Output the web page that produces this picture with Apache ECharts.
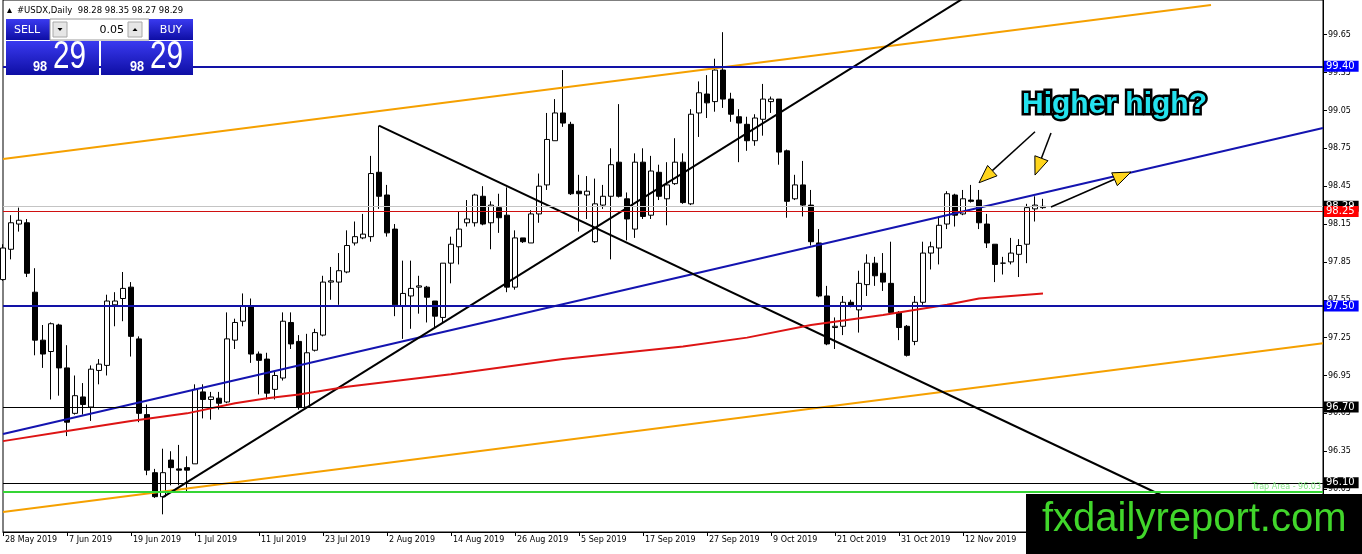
<!DOCTYPE html>
<html><head><meta charset="utf-8">
<script src="https://cdn.jsdelivr.net/npm/echarts@6/dist/echarts.min.js"></script>
<style>html,body{margin:0;padding:0;background:#fff}#c{width:1362px;height:554px}</style>
</head><body><div id="c"></div>
<script>
// ---- categories (weekday trading days) ----
const startDate = '2019-05-28';
const slotCount = 166;
const xTickLabels = ['28 May 2019','7 Jun 2019','19 Jun 2019','1 Jul 2019','11 Jul 2019','23 Jul 2019','2 Aug 2019','14 Aug 2019','26 Aug 2019','5 Sep 2019','17 Sep 2019','27 Sep 2019','9 Oct 2019','21 Oct 2019','31 Oct 2019','12 Nov 2019'];
const yTickValues = [96.05,96.35,96.65,96.95,97.25,97.55,97.85,98.15,98.45,98.75,99.05,99.35,99.65];

// ---- OHLC ----
const opens = [97.71,97.95,98.15,98.16,97.61,97.23,97.14,97.35,97.01,96.65,96.78,96.70,96.99,97.03,97.51,97.56,97.65,97.24,96.64,96.18,
95.99,96.28,96.21,96.22,96.25,96.82,96.76,96.77,96.74,97.23,97.38,97.50,97.12,97.08,96.84,96.93,97.37,97.22,96.70,97.15,
97.27,97.69,97.69,97.77,98.00,98.04,98.05,98.56,98.38,98.11,97.50,97.58,97.65,97.65,97.54,97.41,97.84,97.97,98.16,98.16,
98.37,98.16,98.28,98.22,97.65,98.04,98.00,98.23,98.46,98.81,99.03,98.94,98.41,98.38,98.01,98.30,98.37,98.64,98.35,98.11,
98.64,98.22,98.56,98.35,98.47,98.64,98.31,99.03,99.18,99.12,99.37,99.14,99.00,98.94,98.81,98.98,99.12,99.14,98.73,98.35,
98.46,98.30,98.00,97.58,97.33,97.34,97.53,97.47,97.67,97.84,97.76,97.68,97.45,97.34,97.22,97.53,97.92,97.96,98.15,98.38,
98.23,98.34,98.34,98.15,97.99,97.84,97.85,97.91,97.99,98.27,98.28];
const closes = [97.96,98.16,98.18,97.76,97.23,97.12,97.36,97.01,96.58,96.79,96.72,97.00,97.04,97.54,97.54,97.64,97.26,96.65,96.20,95.99,
96.18,96.22,96.20,96.20,96.84,96.76,96.78,96.73,97.24,97.37,97.50,97.12,97.07,96.81,96.95,97.38,97.20,96.70,97.13,97.29,
97.69,97.70,97.78,97.98,98.05,98.07,98.55,98.37,98.08,97.51,97.60,97.64,97.66,97.57,97.42,97.84,97.99,98.11,98.19,98.38,
98.15,98.30,98.20,97.65,98.04,98.01,98.23,98.45,98.82,99.03,98.95,98.39,98.39,98.41,98.31,98.37,98.62,98.37,98.19,98.64,
98.21,98.57,98.37,98.46,98.64,98.32,99.02,99.19,99.11,99.37,99.14,99.02,98.95,98.81,98.99,99.14,99.14,98.72,98.33,98.46,
98.30,98.01,97.58,97.20,97.34,97.53,97.50,97.68,97.84,97.74,97.69,97.45,97.33,97.11,97.53,97.92,97.97,98.14,98.39,98.22,
98.35,98.33,98.16,98.00,97.83,97.84,97.92,97.98,98.28,98.30,98.29];
const lows = [97.70,97.87,98.09,97.73,97.11,97.01,96.76,96.79,96.47,96.64,96.64,96.59,96.88,96.95,97.34,97.38,97.10,96.58,96.16,95.98,
95.85,96.08,96.08,96.03,96.25,96.61,96.60,96.68,96.73,97.16,97.34,97.05,96.80,96.76,96.76,96.91,97.16,96.68,96.69,97.14,
97.26,97.55,97.51,97.76,97.98,98.03,98.01,98.27,98.05,97.42,97.24,97.32,97.44,97.37,97.33,97.37,97.68,97.83,98.13,98.13,
98.14,97.95,98.08,97.61,97.63,98.00,98.00,98.16,98.42,98.81,98.92,98.38,98.09,98.19,98.00,98.27,97.87,98.36,98.02,98.04,
98.19,98.19,98.34,98.14,98.46,98.31,98.30,98.84,98.99,99.04,99.07,98.96,98.64,98.73,98.77,98.85,99.03,98.62,98.20,98.34,
98.21,97.98,97.57,97.19,97.16,97.27,97.49,97.29,97.58,97.66,97.62,97.45,97.23,97.10,97.19,97.51,97.79,97.83,98.11,98.13,
98.22,98.32,98.11,97.96,97.69,97.75,97.83,97.73,97.84,98.17,98.27];
const highs = [97.99,98.22,98.28,98.19,97.80,97.35,97.37,97.36,97.19,96.95,96.89,97.03,97.08,97.59,97.61,97.77,97.69,97.26,96.72,96.21,
96.37,96.35,96.40,96.31,96.88,96.88,96.82,96.82,97.45,97.40,97.60,97.56,97.14,97.13,96.98,97.45,97.45,97.27,97.28,97.32,
97.74,97.81,97.92,98.10,98.17,98.23,98.69,98.93,98.46,98.15,97.86,97.86,97.74,97.66,97.54,97.84,98.05,98.25,98.34,98.39,
98.45,98.33,98.39,98.44,98.10,98.04,98.26,98.55,99.03,99.14,99.37,98.96,98.54,98.53,98.51,98.46,98.75,99.10,98.40,98.71,
98.75,98.69,98.62,98.64,98.83,98.71,99.06,99.28,99.33,99.46,99.67,99.19,99.06,99.00,99.02,99.26,99.16,99.14,98.74,98.54,
98.65,98.42,98.11,97.66,97.41,97.58,97.55,97.78,97.91,97.89,97.92,98.01,97.46,97.35,97.58,98.01,98.01,98.21,98.41,98.39,
98.42,98.46,98.42,98.23,97.99,97.89,98.04,98.03,98.31,98.37,98.35];

// ---- moving average (read at sample bars) ----
const maIndex = [0,8,16,23,29,33,37,43,56,70,85,93,101,110,118,122,130];
const maValue = [96.43,96.51,96.59,96.65,96.73,96.77,96.80,96.86,96.96,97.08,97.18,97.25,97.35,97.43,97.51,97.56,97.60];

// ---- trend lines [index, price] ----
const blueTrend   = [[0, 96.486],[165, 98.911]];
const orangeUpper = [[0, 98.665],[151, 99.885]];
const orangeLower = [[0, 95.868],[165, 97.205]];
const blackRise   = [[20, 95.987],[121, 99.976]];
const blackFall   = [[47, 98.93],[145, 95.995]];

// ---- horizontal levels ----
const levelValues = [99.40, 98.29, 98.25, 97.50, 96.70, 96.10, 96.03];

// ---- annotation arrows [index, price] ----
const arrowFrom = [[128.6, 98.881],[130.9, 98.871],[131.25, 98.285]];
const arrowTo   = [[121.5, 98.477],[129.3, 98.538],[141.1, 98.562]];

// ---------------------------------------------------------------
const FONT = "'DejaVu Sans', Verdana, sans-serif";
const SANS = "'Liberation Sans', Arial, sans-serif";
const dates = [];
{ let d = new Date(startDate + 'T00:00:00Z');
  while (dates.length < slotCount) { const w = d.getUTCDay(); if (w !== 0 && w !== 6) dates.push(d.toISOString().slice(0,10)); d = new Date(d.getTime() + 86400000); } }

const ohlc = opens.map((o, i) => [o, closes[i], lows[i], highs[i]]);
const maData = maIndex.map((x, k) => [x, maValue[k]]);

const levelStyles = [
  {color:'#1212a6', w:2, bg:'#0000ff', label:true},
  {color:'#c4c4c4', w:1, bg:'#000000', label:true},
  {color:'#d01010', w:1, bg:'#ff0000', label:true},
  {color:'#1212a6', w:2, bg:'#0000ff', label:true},
  {color:'#000000', w:1, bg:'#000000', label:true},
  {color:'#000000', w:1, bg:'#000000', label:true},
  {color:'#35d535', w:2, bg:null, label:false}
];
const markData = levelValues.map((v, k) => {
  const s = levelStyles[k];
  const item = {yAxis: v, lineStyle:{color:s.color, width:s.w, type:'solid'}};
  if (s.label) {
    item.label = {show:true, position:'end', distance:1, formatter: v.toFixed(2), color:'#fff',
      backgroundColor:s.bg, padding:[0,4,0,2], fontSize:10, fontFamily:FONT, lineHeight:11};
  } else {
    item.label = {show:true, position:'insideEndTop', distance:[2,1], formatter:'Trap Area - ' + v.toFixed(2),
      color:'#86e686', fontSize:8, fontFamily:FONT};
  }
  return item;
});

function seg(data, color) {
  return {type:'line', data, symbol:'none', silent:true, z:4, animation:false,
    lineStyle:{color, width:2}};
}

const chart = echarts.init(document.getElementById('c'), null, {renderer:'canvas'});
chart.setOption({
  animation:false,
  backgroundColor:'#fff',
  grid:{left:3, right:39, top:0, bottom:22, show:true, borderColor:'#000', borderWidth:1, outerBoundsMode:'none', containLabel:false},
  xAxis:{type:'category', data:dates, boundaryGap:false,
    axisLine:{show:true, lineStyle:{color:'#000', width:1}},
    axisTick:{show:true, interval:7, length:4, lineStyle:{color:'#000'}},
    axisLabel:{interval:7, align:'left', margin:4, padding:[0,0,0,2], color:'#000', fontSize:8, fontFamily:FONT,
      formatter:(v, i) => (i % 8 === 0 && xTickLabels[i/8]) ? xTickLabels[i/8] : ''},
    splitLine:{show:false}},
  yAxis:{type:'value', position:'right', min:95.71, max:99.925, scale:true,
    splitLine:{show:false},
    axisLine:{show:true, lineStyle:{color:'#000'}},
    axisTick:{show:true, length:4, customValues:yTickValues, lineStyle:{color:'#000'}},
    axisLabel:{customValues:yTickValues, formatter:v => Number(v).toFixed(2), color:'#000', fontSize:8, fontFamily:FONT, margin:5}},
  series:[
    {type:'candlestick', data:ohlc, barWidth:5, z:2,
      itemStyle:{color:'#ffffff', color0:'#000000', borderColor:'#000000', borderColor0:'#000000', borderWidth:1}},
    seg(orangeUpper, '#f5a000'),
    seg(orangeLower, '#f5a000'),
    seg(blueTrend, '#1414b0'),
    seg(blackRise, '#000000'),
    seg(blackFall, '#000000'),
    {type:'line', data:maData, symbol:'none', silent:true, z:4, lineStyle:{color:'#dd1414', width:2}},
    {type:'line', data:[], clip:false, silent:true, z:3,
      markLine:{silent:true, symbol:['none','none'], animation:false, data:markData}}
  ]
});

// ---- graphics (panel, notes, arrows, logo) ----
const blueGrad = () => new echarts.graphic.LinearGradient(0,0,0,1,[{offset:0,color:'#3a3af0'},{offset:1,color:'#0e0ea4'}]);
const g = [];
g.push({type:'polygon', shape:{points:[[7,13],[12,13],[9.5,8]]}, style:{fill:'#000'}, z:100});
g.push({type:'text', x:17, y:11, style:{text:'#USDX,Daily  98.28 98.35 98.27 98.29', font:'8.5px ' + FONT, fill:'#000', textVerticalAlign:'middle'}, z:100});
// panel
g.push({type:'rect', shape:{x:6,y:19,width:44,height:21}, style:{fill:blueGrad()}, z:100});
g.push({type:'text', x:27, y:30, style:{text:'SELL', font:'11px ' + FONT, fill:'#fff', textAlign:'center', textVerticalAlign:'middle'}, z:101});
g.push({type:'rect', shape:{x:50,y:19,width:99,height:21}, style:{fill:'#fff', stroke:'#9a9a9a', lineWidth:1}, z:100});
g.push({type:'rect', shape:{x:53,y:22,width:14,height:15}, style:{fill:'#e6e6e6', stroke:'#a8a8a8', lineWidth:1}, z:101});
g.push({type:'polygon', shape:{points:[[57.5,28],[62.5,28],[60,31]]}, style:{fill:'#000'}, z:102});
g.push({type:'text', x:124, y:30, style:{text:'0.05', font:'11px ' + FONT, fill:'#000', textAlign:'right', textVerticalAlign:'middle'}, z:101});
g.push({type:'rect', shape:{x:128,y:22,width:14,height:15}, style:{fill:'#e6e6e6', stroke:'#a8a8a8', lineWidth:1}, z:101});
g.push({type:'polygon', shape:{points:[[132.5,31],[137.5,31],[135,28]]}, style:{fill:'#000'}, z:102});
g.push({type:'rect', shape:{x:149,y:19,width:44,height:21}, style:{fill:blueGrad()}, z:100});
g.push({type:'text', x:171, y:30, style:{text:'BUY', font:'11px ' + FONT, fill:'#fff', textAlign:'center', textVerticalAlign:'middle'}, z:101});
g.push({type:'rect', shape:{x:6,y:41,width:93,height:34}, style:{fill:blueGrad()}, z:100});
g.push({type:'rect', shape:{x:101,y:41,width:92,height:34}, style:{fill:blueGrad()}, z:100});
g.push({type:'text', x:33, y:66.5, scaleX:0.85, style:{text:'98', font:'bold 15px ' + SANS, fill:'#fff', textVerticalAlign:'middle'}, z:101});
g.push({type:'text', x:53, y:58, scaleX:0.78, style:{text:'29', font:'38px ' + SANS, fill:'#fff', textVerticalAlign:'middle'}, z:101});
g.push({type:'text', x:130, y:66.5, scaleX:0.85, style:{text:'98', font:'bold 15px ' + SANS, fill:'#fff', textVerticalAlign:'middle'}, z:101});
g.push({type:'text', x:150, y:58, scaleX:0.78, style:{text:'29', font:'38px ' + SANS, fill:'#fff', textVerticalAlign:'middle'}, z:101});
// note
g.push({type:'text', x:1022, y:104.5, style:{text:'Higher high?', font:'bold 30px ' + SANS, fill:'#000', stroke:'#000', lineWidth:5, lineJoin:'round', textVerticalAlign:'middle'}, z:100});
g.push({type:'text', x:1022, y:104.5, style:{text:'Higher high?', font:'bold 30px ' + SANS, fill:'#24e2ee', textVerticalAlign:'middle'}, z:101});
// arrows
arrowFrom.forEach((f, k) => {
  const a = chart.convertToPixel({gridIndex:0}, f);
  const b = chart.convertToPixel({gridIndex:0}, arrowTo[k]);
  const dx = b[0]-a[0], dy = b[1]-a[1], len = Math.hypot(dx, dy), ux = dx/len, uy = dy/len;
  const L = 18, W = 7, bx = b[0]-ux*L, by = b[1]-uy*L;
  g.push({type:'line', shape:{x1:a[0], y1:a[1], x2:bx, y2:by}, style:{stroke:'#000', lineWidth:1.5}, z:100});
  g.push({type:'polygon', shape:{points:[[b[0],b[1]],[bx-uy*W, by+ux*W],[bx+uy*W, by-ux*W]]}, style:{fill:'#ffd51c', stroke:'#000', lineWidth:1}, z:101});
});
// logo
g.push({type:'rect', shape:{x:1026, y:494, width:336, height:60}, style:{fill:'#000'}, z:110});
g.push({type:'text', x:1042, y:520, style:{text:'fxdailyreport.com', font:'40px ' + SANS, fill:'#41d62b', textVerticalAlign:'middle'}, z:111});
chart.setOption({graphic:g});
</script>
</body></html>
